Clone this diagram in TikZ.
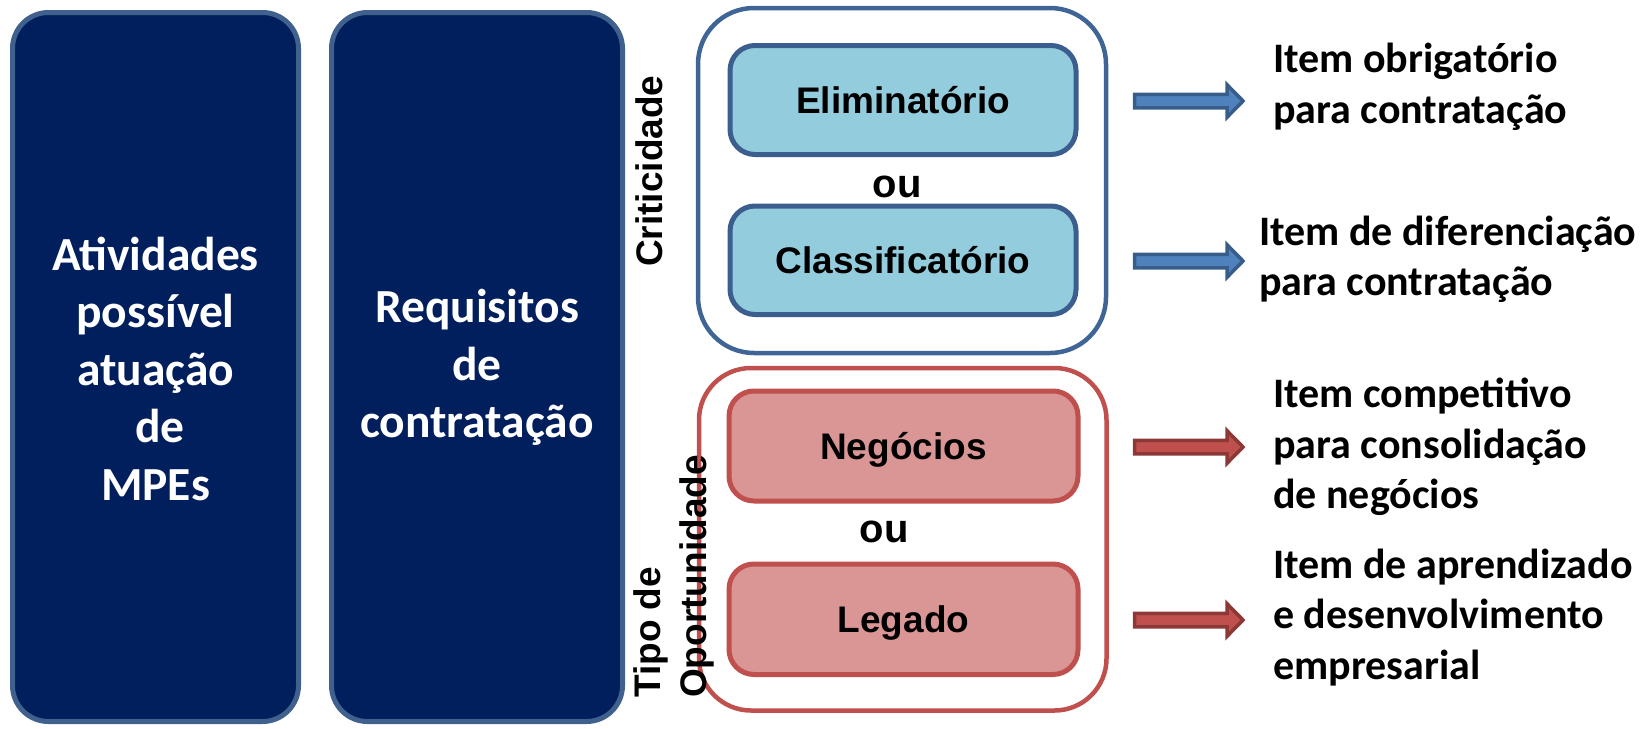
\documentclass[tikz,border=0pt]{standalone}
\usepackage{fontspec}
\newfontfamily\arialf{Liberation Sans}
\newfontfamily\calibf{Carlito}
\definecolor{navyfill}{HTML}{001F5C}
\definecolor{navyborder}{HTML}{40608E}
\definecolor{lightfill}{HTML}{93CDDD}
\definecolor{lightborder}{HTML}{3B5E8E}
\definecolor{bluecont}{HTML}{3F6596}
\definecolor{redcont}{HTML}{C0504D}
\definecolor{pinkfill}{HTML}{D99694}
\definecolor{pinkborder}{HTML}{C0504D}
\definecolor{arrbluefill}{HTML}{4F81BD}
\definecolor{arrblueline}{HTML}{385D8A}
\definecolor{arrredfill}{HTML}{C0504D}
\definecolor{arrredline}{HTML}{8C3836}
\newcommand\mytopfix{\vrule height 48pt depth 0pt width 0pt}
\newcommand\mybotfix{\vrule height 0pt depth 48pt width 0pt}
\begin{document}
\begin{tikzpicture}[x=1pt,y=-1pt,
  darkbox/.style={draw=navyborder, fill=navyfill, line width=5pt, rounded corners=36pt, inner sep=0pt},
  darktext/.style={font=\calibf\bfseries\fontsize{47.5}{57.5}\selectfont, text=white, align=center, inner sep=0pt},
  bluecontainer/.style={draw=bluecont, line width=4.5pt, rounded corners=56pt, inner sep=0pt},
  redcontainer/.style={draw=redcont, line width=4.5pt, rounded corners=52pt, inner sep=0pt},
  optlabel/.style={font=\arialf\bfseries\fontsize{37}{44}\selectfont, text height=26.5pt, text depth=0pt, inner sep=0pt, line width=5pt, rounded corners=25pt},
  lightbox/.style={optlabel, draw=lightborder, fill=lightfill},
  pinkbox/.style={optlabel, draw=pinkborder, fill=pinkfill},
  midlabel/.style={font=\arialf\bfseries\fontsize{37}{44}\selectfont, inner sep=0pt},
  oulabel/.style={font=\arialf\bfseries\fontsize{40}{46}\selectfont, inner sep=0pt, anchor=base},
  righttext/.style={font=\calibf\bfseries\fontsize{42}{50.5}\selectfont, align=left, anchor=west, inner sep=0pt},
  arrowblue/.style={draw=arrblueline, fill=arrbluefill, line width=3.5pt, miter limit=4},
  arrowred/.style={draw=arrredline, fill=arrredfill, line width=3.5pt, miter limit=4}
]
\useasboundingbox (0,0) rectangle (1648,728);

% dark columns
\node[darkbox, minimum width=286pt, minimum height=709pt] (atbox) at (155.5,367) {};
\node[darkbox, minimum width=291pt, minimum height=709pt] (reqbox) at (477,367) {};
\node[darktext] (attext) at (155.5,385) {\mytopfix Atividades\\possível\\atuação\\\hspace*{9pt}de\\MPEs\mybotfix};
\node[darktext] (reqtext) at (477,380) {\mytopfix Requisitos\\de\\contratação\mybotfix};

% containers
\node[bluecontainer, minimum width=408pt, minimum height=345pt] (critbox) at (902,180.5) {};
\node[redcontainer, minimum width=407.5pt, minimum height=342.5pt] (opbox) at (902.75,539.25) {};

% option boxes
\node[lightbox, minimum width=346pt, minimum height=109pt] (elim) at (903,100) {Eliminatório};
\node[lightbox, minimum width=346pt, minimum height=108.5pt] (class) at (903,260.25) {Classificatório};
\node[pinkbox, minimum width=349pt, minimum height=110pt] (neg) at (903.5,446) {Negócios};
\node[pinkbox, minimum width=349pt, minimum height=110.5pt] (leg) at (903.5,619.25) {Legado};

\node[oulabel] (ou1) at (897,197) {ou};
\node[oulabel] (ou2) at (884,542) {ou};

% rotated labels
\node[midlabel, rotate=90, anchor=base west] (crit) at (662,267) {Criticidade};
\node[midlabel, rotate=90, anchor=base west] (tipo) at (660,698) {Tipo de};
\node[midlabel, rotate=90, anchor=base west] (oport) at (706,698) {Oportunidade};

% arrows
\coordinate (a1) at (1134.5,101);
\coordinate (a2) at (1134.5,261);
\coordinate (a3) at (1134.5,447);
\coordinate (a4) at (1134.5,620);
\draw[arrowblue, shift={(a1)}] (0,-6.75) -- (92.5,-6.75) -- (92.5,-16.3) -- (108.5,0) -- (92.5,16.3) -- (92.5,6.75) -- (0,6.75) -- cycle;
\draw[arrowblue, shift={(a2)}] (0,-6.75) -- (92.5,-6.75) -- (92.5,-16.3) -- (108.5,0) -- (92.5,16.3) -- (92.5,6.75) -- (0,6.75) -- cycle;
\draw[arrowred, shift={(a3)}] (0,-6.75) -- (92.5,-6.75) -- (92.5,-16.3) -- (108.5,0) -- (92.5,16.3) -- (92.5,6.75) -- (0,6.75) -- cycle;
\draw[arrowred, shift={(a4)}] (0,-6.75) -- (92.5,-6.75) -- (92.5,-16.3) -- (108.5,0) -- (92.5,16.3) -- (92.5,6.75) -- (0,6.75) -- cycle;

% right texts
\node[righttext] (r1) at (1273,97.75) {\mytopfix Item obrigatório\\para contratação\mybotfix};
\node[righttext] (r2) at (1259,270.25) {\mytopfix Item de diferenciação\\para contratação\mybotfix};
\node[righttext] (r3) at (1273,458) {\mytopfix Item competitivo\\para consolidação\\de negócios\mybotfix};
\node[righttext] (r4) at (1273,628.5) {\mytopfix Item de aprendizado\\e desenvolvimento\\empresarial\mybotfix};
\end{tikzpicture}
\end{document}
